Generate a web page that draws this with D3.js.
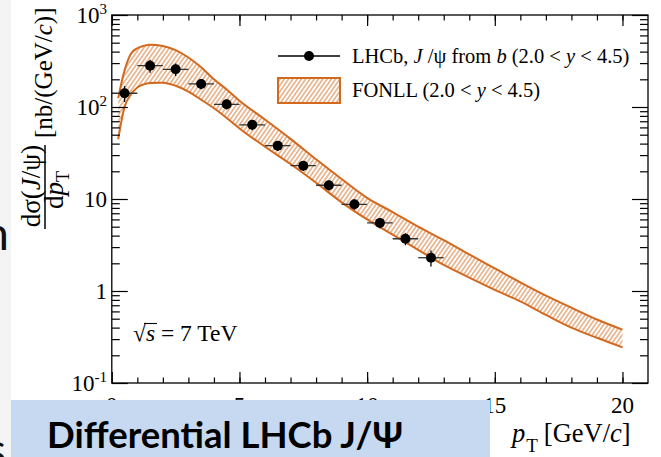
<!DOCTYPE html>
<html><head><meta charset="utf-8">
<script src="https://cdn.jsdelivr.net/npm/d3@7"></script>
<style>
html,body{margin:0;padding:0;background:#fff;}
svg{display:block;}
.serif{font-family:"Liberation Serif","Times New Roman",serif;}
</style></head><body>
<svg id="chart" width="661" height="457"></svg>
<script>
// LHCb J/psi-from-b differential cross-section vs FONLL prediction (2.0 < y < 4.5)
const binLow  = [0,1,2,3,4,5,6,7,8,9,10,11,12];
const binHigh = [1,2,3,4,5,6,7,8,9,10,11,12,13];
const sigma    = [141, 281, 257, 178, 107, 64, 38, 23, 14.1, 8.75, 5.5, 3.7, 2.3];
const sigmaErr = [28, 45, 40, 22, 13, 8, 4.7, 2.8, 1.7, 1.1, 0.7, 0.55, 0.45];

const fonllPt    = [0.25,0.5,0.75,1,1.25,1.5,2,2.5,3,3.5,4,4.5,5,6,7,8,9,10,11,12,13,14,15,16,17,18,19,20];
const fonllUpper = [125,250,380,435,462,475,460,415,345,270,200,155,117,73,45,27,16.5,10.3,7.2,5.0,3.57,2.5,1.76,1.24,0.89,0.66,0.49,0.38];
const fonllLower = [44.6,100,137,163,176,182,184,170,147,120,97,76,58.5,37,24,15,9.2,6.0,4.1,2.8,1.92,1.40,1.03,0.77,0.55,0.40,0.31,0.244];

const xMajor = [0,5,10,15,20];
const xMinor = d3.range(1,21);
const yMajor = [0.1,1,10,100,1000];
const yMajorLabel = [["10","-1"],["1",""],["10",""],["10","2"],["10","3"]];

const svg = d3.select("#chart");
const W = 661, H = 457;
const frame = {left:111.8, right:648, top:15, bottom:383};

const x = d3.scaleLinear().domain([0,21]).range([frame.left, frame.right]);
const y = d3.scaleLog().domain([0.1,1000]).range([frame.bottom, frame.top]);

// page strip on the far left
svg.append("rect").attr("x",0).attr("y",0).attr("width",11).attr("height",H).attr("fill","#f4f4f4");
svg.append("text").attr("x",9).attr("y",250).attr("text-anchor","end")
  .style("font-family","Lato, 'Open Sans', sans-serif").style("font-size","46px").attr("fill","#111").text("n");
svg.append("text").attr("x",6).attr("y",466).attr("text-anchor","end")
  .style("font-family","Lato, 'Open Sans', sans-serif").style("font-size","46px").attr("fill","#111").text("s");

const orange = "#d2691e";
const defs = svg.append("defs");
const pat = defs.append("pattern").attr("id","hatch").attr("patternUnits","userSpaceOnUse")
  .attr("width",3.5).attr("height",3.5).attr("patternTransform","rotate(35)");
pat.append("line").attr("x1",1.75).attr("x2",1.75).attr("y1",-1).attr("y2",4.5)
  .attr("stroke",orange).attr("stroke-width",0.95).attr("stroke-opacity",0.9);
defs.append("clipPath").attr("id","plotclip").append("rect")
  .attr("x",frame.left).attr("y",frame.top).attr("width",frame.right-frame.left).attr("height",frame.bottom-frame.top);

const plot = svg.append("g").attr("clip-path","url(#plotclip)");

// FONLL band
const band = fonllPt.map((p,i)=>({p, lo:fonllLower[i], hi:fonllUpper[i]}));
plot.append("path").datum(band)
  .attr("d", d3.area().x(d=>x(d.p)).y0(d=>y(d.lo)).y1(d=>y(d.hi)).curve(d3.curveMonotoneX))
  .attr("fill","url(#hatch)");
const edge = k => d3.line().x(d=>x(d.p)).y(d=>y(d[k])).curve(d3.curveMonotoneX);
["lo","hi"].forEach(k=>{
  plot.append("path").datum(band).attr("d",edge(k)).attr("fill","none")
    .attr("stroke",orange).attr("stroke-width",2);
});

// data points
const pts = binLow.map((lo,i)=>({lo, hi:binHigh[i], c:(lo+binHigh[i])/2, v:sigma[i], e:sigmaErr[i]}));
const pg = plot.append("g");
pg.selectAll("line.h").data(pts).join("line").attr("class","h")
  .attr("x1",d=>x(d.lo)).attr("x2",d=>x(d.hi)).attr("y1",d=>y(d.v)).attr("y2",d=>y(d.v))
  .attr("stroke","#333").attr("stroke-width",1.3);
pg.selectAll("line.v").data(pts).join("line").attr("class","v")
  .attr("x1",d=>x(d.c)).attr("x2",d=>x(d.c)).attr("y1",d=>y(d.v-d.e)).attr("y2",d=>y(d.v+d.e))
  .attr("stroke","#000").attr("stroke-width",1.3);
pg.selectAll("circle").data(pts).join("circle")
  .attr("cx",d=>x(d.c)).attr("cy",d=>y(d.v)).attr("r",5).attr("fill","#000");

// axes (ticks drawn inward on all four sides)
const yMinor = [];
for (let e=-1; e<3; e++) for (let m=2; m<10; m++) yMinor.push(m*Math.pow(10,e));
const axisStyle = g => { g.select(".domain").remove(); g.selectAll("line").attr("stroke","#000").attr("stroke-width",1.2); g.selectAll("text").remove(); };
svg.append("g").attr("transform",`translate(0,${frame.bottom})`).call(d3.axisBottom(x).tickValues(xMinor).tickSize(-5.5)).call(axisStyle);
svg.append("g").attr("transform",`translate(0,${frame.bottom})`).call(d3.axisBottom(x).tickValues(xMajor).tickSize(-11)).call(axisStyle);
svg.append("g").attr("transform",`translate(0,${frame.top})`).call(d3.axisTop(x).tickValues(xMinor).tickSize(-5.5)).call(axisStyle);
svg.append("g").attr("transform",`translate(0,${frame.top})`).call(d3.axisTop(x).tickValues(xMajor).tickSize(-11)).call(axisStyle);
svg.append("g").attr("transform",`translate(${frame.left},0)`).call(d3.axisLeft(y).tickValues(yMinor).tickSize(-8)).call(axisStyle);
svg.append("g").attr("transform",`translate(${frame.left},0)`).call(d3.axisLeft(y).tickValues(yMajor).tickSize(-16)).call(axisStyle);
svg.append("g").attr("transform",`translate(${frame.right},0)`).call(d3.axisRight(y).tickValues(yMinor).tickSize(-8)).call(axisStyle);
svg.append("g").attr("transform",`translate(${frame.right},0)`).call(d3.axisRight(y).tickValues(yMajor).tickSize(-16)).call(axisStyle);
svg.append("rect").attr("x",frame.left).attr("y",frame.top).attr("width",frame.right-frame.left)
  .attr("height",frame.bottom-frame.top).attr("fill","none").attr("stroke","#000").attr("stroke-width",1.3);

// tick labels
const tl = svg.append("g").attr("class","serif").attr("fill","#000");
yMajor.forEach((v,i)=>{
  const t = tl.append("text").attr("x",107).attr("y",y(v)+8).attr("text-anchor","end").style("font-size","23px");
  t.append("tspan").text(yMajorLabel[i][0]);
  if (yMajorLabel[i][1]) t.append("tspan").attr("dy",-9).style("font-size","15px").text(yMajorLabel[i][1]);
});
xMajor.forEach(v=>{
  tl.append("text").attr("x",x(v)).attr("y",413).attr("text-anchor","middle").style("font-size","23px").text(v);
});

// axis titles
const xt = svg.append("text").attr("class","serif").attr("x",512).attr("y",442).style("font-size","26.5px");
xt.append("tspan").style("font-style","italic").text("p");
xt.append("tspan").attr("dy",10).attr("dx",1).style("font-size","19px").text("T");
xt.append("tspan").attr("dy",-10).attr("dx",6).text("[GeV/");
xt.append("tspan").style("font-style","italic").text("c");
xt.append("tspan").text("]");

const yt = svg.append("g").attr("class","serif").attr("transform","rotate(-90)");
const num = yt.append("text").attr("x",-186).attr("y",40).attr("text-anchor","middle").style("font-size","27px");
num.append("tspan").text("dσ(");
num.append("tspan").style("font-style","italic").text("J");
num.append("tspan").text("/ψ)");
yt.append("line").attr("x1",-229).attr("x2",-145).attr("y1",45).attr("y2",45).attr("stroke","#000").attr("stroke-width",1.5);
const den = yt.append("text").attr("x",-190).attr("y",63).attr("text-anchor","middle").style("font-size","27px");
den.append("tspan").text("d");
den.append("tspan").style("font-style","italic").text("p");
den.append("tspan").attr("dy",6).style("font-size","18px").text("T");
const unit = yt.append("text").attr("x",-138).attr("y",52).style("font-size","25px");
unit.append("tspan").text("[nb/(GeV/");
unit.append("tspan").style("font-style","italic").text("c");
unit.append("tspan").text(")]");

// sqrt(s) annotation
const rs = svg.append("text").attr("class","serif").attr("x",133).attr("y",341).style("font-size","23.5px");
rs.append("tspan").text("√");
rs.append("tspan").style("font-style","italic").text("s");
rs.append("tspan").text(" = 7 TeV");
svg.append("line").attr("x1",144).attr("x2",157).attr("y1",323.5).attr("y2",323.5).attr("stroke","#000").attr("stroke-width",1.1);

// legend
const lg = svg.append("g").attr("class","serif").style("font-size","20.5px");
lg.append("line").attr("x1",278).attr("x2",340).attr("y1",56).attr("y2",56).attr("stroke","#000").attr("stroke-width",1.3);
lg.append("circle").attr("cx",309).attr("cy",56).attr("r",5).attr("fill","#000");
const l1 = lg.append("text").attr("x",352).attr("y",63);
l1.append("tspan").text("LHCb,  ");
l1.append("tspan").style("font-style","italic").text("J");
l1.append("tspan").text(" /ψ from ");
l1.append("tspan").style("font-style","italic").text("b");
l1.append("tspan").text(" (2.0 < ");
l1.append("tspan").style("font-style","italic").text("y");
l1.append("tspan").text(" < 4.5)");
lg.append("rect").attr("x",278).attr("y",78).attr("width",62).attr("height",25)
  .attr("fill","url(#hatch)").attr("stroke",orange).attr("stroke-width",2);
const l2 = lg.append("text").attr("x",352).attr("y",97);
l2.append("tspan").text("FONLL (2.0 < ");
l2.append("tspan").style("font-style","italic").text("y");
l2.append("tspan").text(" < 4.5)");

// caption box
svg.append("rect").attr("x",11).attr("y",400).attr("width",479).attr("height",60).attr("fill","#c6d9f1");
svg.append("text").attr("x",47).attr("y",448)
  .style("font-family","Lato, 'Open Sans', sans-serif").style("font-weight","bold").style("font-size","36.5px")
  .attr("fill","#000").text("Differential LHCb J/Ψ");
</script>
</body></html>
